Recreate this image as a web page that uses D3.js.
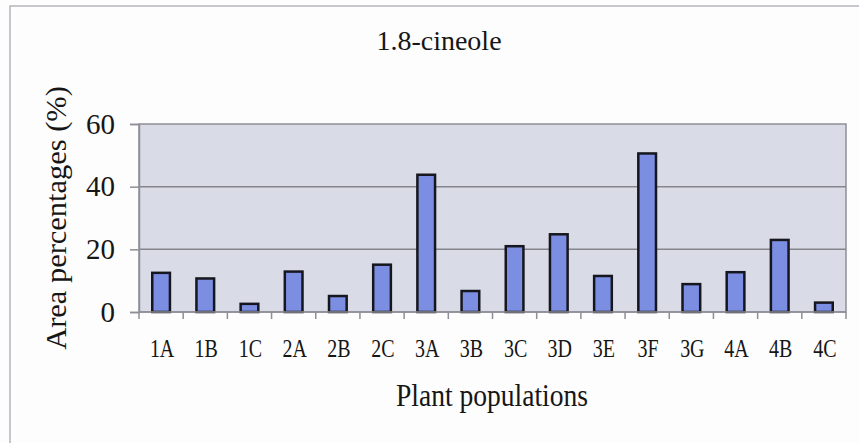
<!DOCTYPE html>
<html>
<head>
<meta charset="utf-8">
<script src="https://cdn.jsdelivr.net/npm/d3@7"></script>
<style>
  html, body { margin: 0; padding: 0; background: #fdfdfd; }
  svg { display: block; }
</style>
</head>
<body>
<svg id="chart" width="859" height="443"></svg>
<script>
// 1,8-cineole content per plant population (area %)
const populations = ["1A","1B","1C","2A","2B","2C","3A","3B","3C","3D","3E","3F","3G","4A","4B","4C"];
const cineole = [12.5, 10.7, 2.6, 12.9, 5.1, 15.1, 43.8, 6.7, 21.0, 24.8, 11.5, 50.6, 8.9, 12.7, 23.0, 3.0];
const yTicks = [0, 20, 40, 60];

const titleText = "1.8-cineole";
const xTitle = "Plant populations";
const yTitle = "Area percentages (%)";

const FONT = "'Liberation Serif', 'Times New Roman', Times, serif";
const INK = "#161616";

const svg = d3.select("#chart");
const W = 859, H = 443;
const plot = { left: 139, right: 846, top: 124, bottom: 312 };

// outer chart frame
svg.append("rect")
  .attr("x", 10).attr("y", 6)
  .attr("width", W + 20).attr("height", H + 20)
  .attr("fill", "#fdfdfd")
  .attr("stroke", "#b4b4bc").attr("stroke-width", 1.5);

const pad = 0.6;
const x = d3.scaleBand()
  .domain(populations)
  .range([plot.left, plot.right])
  .paddingInner(pad)
  .paddingOuter(pad / 2);

const y = d3.scaleLinear()
  .domain([0, 60])
  .range([plot.bottom, plot.top]);

// plot background
svg.append("rect")
  .attr("x", plot.left).attr("y", plot.top)
  .attr("width", plot.right - plot.left)
  .attr("height", plot.bottom - plot.top)
  .attr("fill", "#d9dbe6")
  .attr("stroke", "#8e8e96").attr("stroke-width", 1.5);

// horizontal gridlines
svg.append("g")
  .selectAll("line")
  .data(yTicks.filter(t => t > 0 && t < 60))
  .join("line")
  .attr("x1", plot.left).attr("x2", plot.right)
  .attr("y1", d => y(d)).attr("y2", d => y(d))
  .attr("stroke", "#85858c").attr("stroke-width", 1.5);

// y axis
const yAxis = svg.append("g")
  .attr("transform", `translate(${plot.left},0)`)
  .call(d3.axisLeft(y).tickValues(yTicks).tickSize(9).tickPadding(15).tickFormat(d3.format("d")));
yAxis.attr("font-family", null);
yAxis.select(".domain").attr("stroke", "#8e8e96").attr("stroke-width", 1.5);
yAxis.selectAll(".tick line").attr("stroke", "#8e8e96").attr("stroke-width", 1.5);
yAxis.selectAll(".tick text")
  .style("font-family", FONT)
  .style("font-size", "29px")
  .attr("fill", INK);

// bars
svg.append("g")
  .selectAll("rect")
  .data(populations.map((p, i) => ({ p, v: cineole[i] })))
  .join("rect")
  .attr("x", d => x(d.p))
  .attr("width", x.bandwidth())
  .attr("y", d => y(d.v))
  .attr("height", d => y(0) - y(d.v))
  .attr("fill", "#7b8ee2")
  .attr("stroke", "#16161e")
  .attr("stroke-width", 2.5);

// x axis line and category boundary ticks
const step = x.step();
const boundaries = populations.map(p => x(p) - step * pad / 2).concat([plot.right]);
svg.append("line")
  .attr("x1", plot.left).attr("x2", plot.right)
  .attr("y1", y(0)).attr("y2", y(0))
  .attr("stroke", "#8e8e96").attr("stroke-width", 1.5);
svg.append("g")
  .selectAll("line")
  .data(boundaries)
  .join("line")
  .attr("x1", d => d).attr("x2", d => d)
  .attr("y1", y(0)).attr("y2", y(0) + 7)
  .attr("stroke", "#8e8e96").attr("stroke-width", 1.5);

// category labels
svg.append("g")
  .selectAll("text")
  .data(populations)
  .join("text")
  .attr("transform", d => `translate(${x(d) + x.bandwidth() / 2 + 1},357) scale(0.8,1)`)
  .attr("text-anchor", "middle")
  .style("font-family", FONT)
  .style("font-size", "25px")
  .attr("fill", INK)
  .text(d => d);

// titles
svg.append("text")
  .attr("x", 439).attr("y", 50)
  .attr("text-anchor", "middle")
  .style("font-family", FONT)
  .style("font-size", "28px")
  .attr("fill", INK)
  .text(titleText);

svg.append("text")
  .attr("transform", "translate(492,406) scale(0.95,1.1)")
  .attr("text-anchor", "middle")
  .style("font-family", FONT)
  .style("font-size", "29px")
  .attr("fill", INK)
  .text(xTitle);

svg.append("text")
  .attr("transform", "translate(66,218) rotate(-90) scale(1.05,1)")
  .attr("text-anchor", "middle")
  .style("font-family", FONT)
  .style("font-size", "29px")
  .attr("fill", INK)
  .text(yTitle);
</script>
</body>
</html>
